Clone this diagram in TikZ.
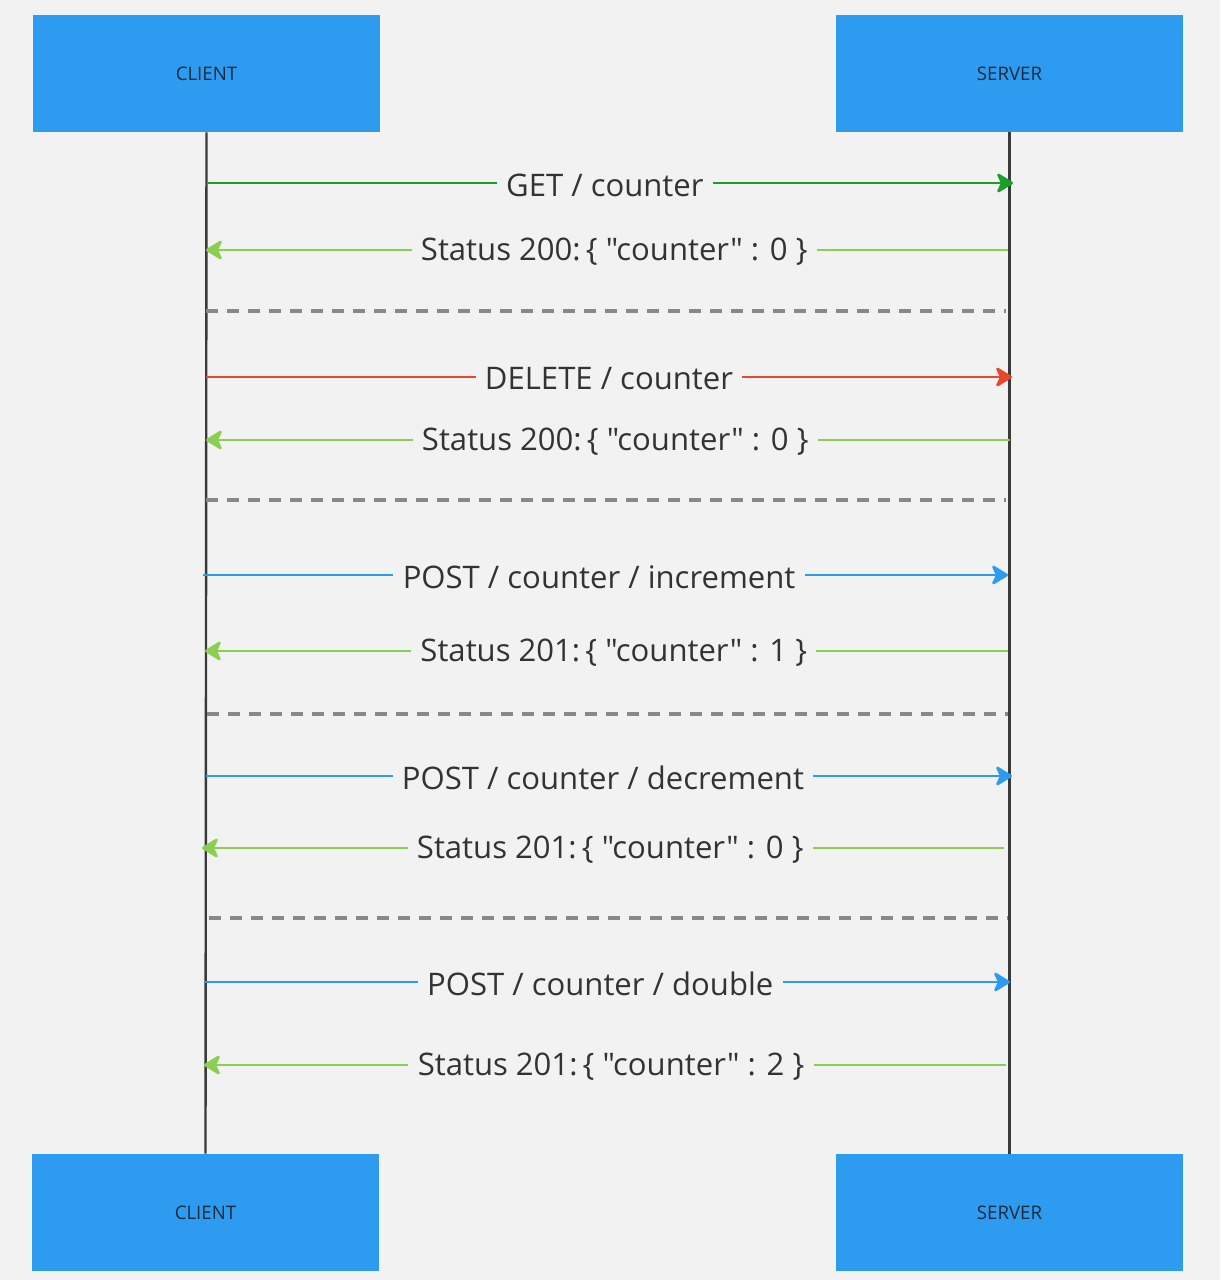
\documentclass[tikz,border=0pt]{standalone}
\usepackage{fontspec}
\setmainfont{Open Sans}[Ligatures=TeXOff]
\usetikzlibrary{arrows.meta}
\definecolor{bg}{HTML}{F2F2F2}
\definecolor{boxblue}{HTML}{2D9BF0}
\definecolor{getgreen}{HTML}{1A9E2A}
\definecolor{okgreen}{HTML}{8ACF52}
\definecolor{delred}{HTML}{E8472B}
\definecolor{postblue}{HTML}{2D9BF0}
\definecolor{lifegray}{HTML}{3A3A3A}
\definecolor{sepgray}{HTML}{888888}
\definecolor{txt}{HTML}{333333}
\definecolor{boxtxt}{HTML}{1B2A3A}
\begin{document}
\begin{tikzpicture}[x=0.75pt,y=-0.75pt,
  actor/.style={fill=boxblue,draw=none,minimum width=260.25pt,minimum height=87.75pt,inner sep=0pt,text=boxtxt,font=\fontsize{14}{16}\selectfont},
  life/.style={draw=lifegray,line width=1.8pt},
  msg/.style={line width=2pt,-{Stealth[length=14pt,width=17pt,inset=4pt,round]}},
  lbl/.style={fill=bg,text=txt,inner xsep=7pt,inner ysep=1pt,yshift=-1.5pt,font=\fontsize{23.3}{26}\selectfont},
  sep/.style={draw=sepgray,line width=2.3pt,dash pattern=on 9pt off 6.75pt}]
\fill[bg] (0,0) rectangle (1220,1280);
\useasboundingbox (0,0) rectangle (1220,1280);
% actors
\node[actor] (ct) at (206.5,73.5) {CLIENT};
\node[actor] (st) at (1009.5,73.5) {SERVER};
\node[actor] (cb) at (205.5,1212.5) {CLIENT};
\node[actor] (sb) at (1009.5,1212.5) {SERVER};
% lifelines
\draw[life] (ct.south) -- (cb.north);
\draw[life] (st.south) -- (sb.north);
% message end points
\coordinate (c1) at (208,183);  \coordinate (s1) at (1013,183);
\coordinate (s2) at (1008,250); \coordinate (c2) at (206,250);
\coordinate (d1a) at (206,311); \coordinate (d1b) at (1006,311);
\coordinate (c3) at (206,377);  \coordinate (s3) at (1012,377);
\coordinate (s4) at (1010,440); \coordinate (c4) at (206,440);
\coordinate (d2a) at (206,500); \coordinate (d2b) at (1006,500);
\coordinate (c5) at (203,575);  \coordinate (s5) at (1008,575);
\coordinate (s6) at (1008,651); \coordinate (c6) at (205,651);
\coordinate (d3a) at (207,714); \coordinate (d3b) at (1008,714);
\coordinate (c7) at (206,776);  \coordinate (s7) at (1012,776);
\coordinate (s8) at (1004,848); \coordinate (c8) at (202,848);
\coordinate (d4a) at (209,918); \coordinate (d4b) at (1008,918);
\coordinate (c9) at (205,982);  \coordinate (s9) at (1010,982);
\coordinate (s10) at (1006,1065); \coordinate (c10) at (204,1065);
% messages
\draw[msg,getgreen] (c1) -- node[lbl,pos=0.493] (m1) {GET / counter} (s1);
\draw[msg,okgreen] (s2) -- node[lbl,pos=0.491] (m2) {Status 200:\,\{ "counter" : 0 \}} (c2);
\draw[sep] (d1a) -- (d1b);
\draw[msg,delred] (c3) -- node[lbl,pos=0.5] (m3) {DELETE / counter} (s3);
\draw[msg,okgreen] (s4) -- node[lbl,pos=0.491] (m4) {Status 200:\,\{ "counter" : 0 \}} (c4);
\draw[sep] (d2a) -- (d2b);
\draw[msg,postblue] (c5) -- node[lbl,pos=0.492] (m5) {POST / counter / increment} (s5);
\draw[msg,okgreen] (s6) -- node[lbl,pos=0.491] (m6) {Status 201:\,\{ "counter" : 1 \}} (c6);
\draw[sep] (d3a) -- (d3b);
\draw[msg,postblue] (c7) -- node[lbl,pos=0.4925] (m7) {POST / counter / decrement} (s7);
\draw[msg,okgreen] (s8) -- node[lbl,pos=0.491] (m8) {Status 201:\,\{ "counter" : 0 \}} (c8);
\draw[sep] (d4a) -- (d4b);
\draw[msg,postblue] (c9) -- node[lbl,pos=0.491] (m9) {POST / counter / double} (s9);
\draw[msg,okgreen] (s10) -- node[lbl,pos=0.4925] (m10) {Status 201:\,\{ "counter" : 2 \}} (c10);
\end{tikzpicture}
\end{document}
